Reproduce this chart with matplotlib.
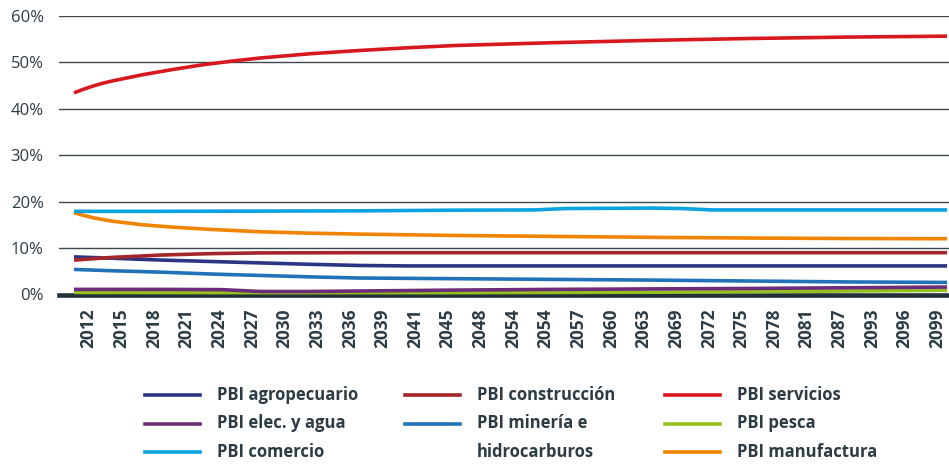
import numpy as np
import matplotlib
matplotlib.use('Agg')
import matplotlib.pyplot as plt
from matplotlib.lines import Line2D

plt.rcParams['font.family'] = ['Open Sans', 'DejaVu Sans']

# x tick labels as printed in the source chart
tick_labels = ['2012', '2015', '2018', '2021', '2024', '2027', '2030', '2033', '2036',
               '2039', '2041', '2045', '2048', '2054', '2054', '2057', '2060', '2063',
               '2069', '2072', '2075', '2078', '2081', '2087', '2093', '2096', '2099']

# series (share of GDP, %)
yrs_servicios = [2011, 2012, 2013, 2014, 2015, 2018, 2021, 2024, 2027, 2030, 2035, 2040, 2045, 2050, 2060, 2070, 2080, 2090, 2100]
servicios = [43.4, 44.2, 44.9, 45.5, 46.0, 47.3, 48.4, 49.4, 50.2, 50.9, 51.8, 52.5, 53.1, 53.6, 54.2, 54.7, 55.1, 55.4, 55.6]

yrs_comercio = [2011, 2020, 2030, 2040, 2050, 2058, 2061, 2070, 2073, 2076, 2085, 2100]
comercio = [17.9, 17.9, 17.95, 18.0, 18.15, 18.2, 18.5, 18.6, 18.5, 18.2, 18.2, 18.2]

yrs_manufactura = [2011, 2012, 2013, 2014, 2015, 2018, 2021, 2025, 2030, 2035, 2040, 2045, 2050, 2060, 2070, 2080, 2090, 2100]
manufactura = [17.6, 17.0, 16.5, 16.1, 15.75, 15.0, 14.5, 14.0, 13.5, 13.2, 13.0, 12.85, 12.7, 12.5, 12.3, 12.15, 12.05, 12.0]

yrs_construccion = [2011, 2015, 2020, 2025, 2030, 2040, 2100]
construccion = [7.4, 8.0, 8.5, 8.8, 8.95, 9.0, 9.0]

yrs_agro = [2011, 2015, 2020, 2025, 2030, 2035, 2040, 2045, 2100]
agropecuario = [8.1, 7.8, 7.4, 7.1, 6.8, 6.5, 6.25, 6.15, 6.15]

yrs_mineria = [2011, 2015, 2020, 2025, 2030, 2035, 2040, 2050, 2060, 2070, 2080, 2090, 2100]
mineria = [5.4, 5.1, 4.8, 4.4, 4.1, 3.8, 3.55, 3.4, 3.25, 3.1, 2.9, 2.7, 2.6]

yrs_elec = [2011, 2020, 2026, 2030, 2035, 2040, 2050, 2060, 2070, 2080, 2090, 2100]
elec = [1.1, 1.1, 1.05, 0.65, 0.65, 0.75, 0.95, 1.1, 1.2, 1.3, 1.45, 1.6]

yrs_pesca = [2011, 2030, 2050, 2060, 2070, 2080, 2090, 2100]
pesca = [0.45, 0.4, 0.4, 0.45, 0.5, 0.6, 0.75, 0.9]

yticks = [0, 10, 20, 30, 40, 50, 60]

c_agro = '#2b3584'
c_constr = '#a3262a'
c_serv = '#d7191f'
c_elec = '#6d2c7a'
c_min = '#2272b9'
c_pesca = '#95c11f'
c_com = '#0aa3e0'
c_manu = '#f08300'
txt = '#2d3b45'

W, H = 949, 468
fig = plt.figure(figsize=(W / 100, H / 100), dpi=100)
ax = fig.add_axes([59 / W, 1 - 294.5 / H, 1 - 59 / W, (294.5 - 15.7) / H])

lw = 2.6
ax.plot(yrs_pesca, pesca, color=c_pesca, lw=lw, solid_capstyle='butt')
ax.plot(yrs_elec, elec, color=c_elec, lw=lw, solid_capstyle='butt')
ax.plot(yrs_mineria, mineria, color=c_min, lw=lw, solid_capstyle='butt')
ax.plot(yrs_agro, agropecuario, color=c_agro, lw=lw, solid_capstyle='butt')
ax.plot(yrs_construccion, construccion, color=c_constr, lw=lw, solid_capstyle='butt')
ax.plot(yrs_manufactura, manufactura, color=c_manu, lw=lw, solid_capstyle='butt')
ax.plot(yrs_comercio, comercio, color=c_com, lw=lw, solid_capstyle='butt')
ax.plot(yrs_servicios, servicios, color=c_serv, lw=lw, solid_capstyle='butt')

ax.set_xlim(2009.47, 2100.2)
ax.set_ylim(0, 60)
ax.set_yticks(yticks)
ax.set_yticklabels([f'{v}%' for v in yticks], fontsize=12, color=txt)
ax.set_xticks(np.linspace(2012.5, 2099.0, len(tick_labels)))
ax.set_xticklabels(tick_labels, rotation=90, fontsize=12.5, fontweight='bold', color=txt)
ax.tick_params(axis='both', length=0)
ax.tick_params(axis='y', pad=11)
ax.tick_params(axis='x', pad=10)
ax.yaxis.grid(True, color='#3c474e', lw=1.0)
ax.set_axisbelow(True)
for s in ['top', 'left', 'right']:
    ax.spines[s].set_visible(False)
ax.spines['bottom'].set_color('#22313a')
ax.spines['bottom'].set_linewidth(3.3)
ax.spines['bottom'].set_zorder(1.5)

# legend, laid out by hand: 3 columns, the minería label wraps
legend_items = [
    (0, 0, 'PBI agropecuario', c_agro),
    (0, 1, 'PBI construcción', c_constr),
    (0, 2, 'PBI servicios', c_serv),
    (1, 0, 'PBI elec. y agua', c_elec),
    (1, 1, 'PBI minería e', c_min),
    (1, 2, 'PBI pesca', c_pesca),
    (2, 0, 'PBI comercio', c_com),
    (2, 1, 'hidrocarburos', None),
    (2, 2, 'PBI manufactura', c_manu),
]
col_x = [145, 405, 665]
row_y = [395, 423.5, 452]
for r, c, label, col in legend_items:
    y = 1 - row_y[r] / H
    x0 = col_x[c]
    if col is not None:
        fig.add_artist(Line2D([x0 / W, (x0 + 55) / W], [y, y], color=col, lw=2.6,
                              transform=fig.transFigure))
    fig.text((x0 + 72) / W, y, label, fontsize=12, fontweight='bold', color=txt,
             va='center', ha='left')

fig.savefig('out.png', dpi=100)
